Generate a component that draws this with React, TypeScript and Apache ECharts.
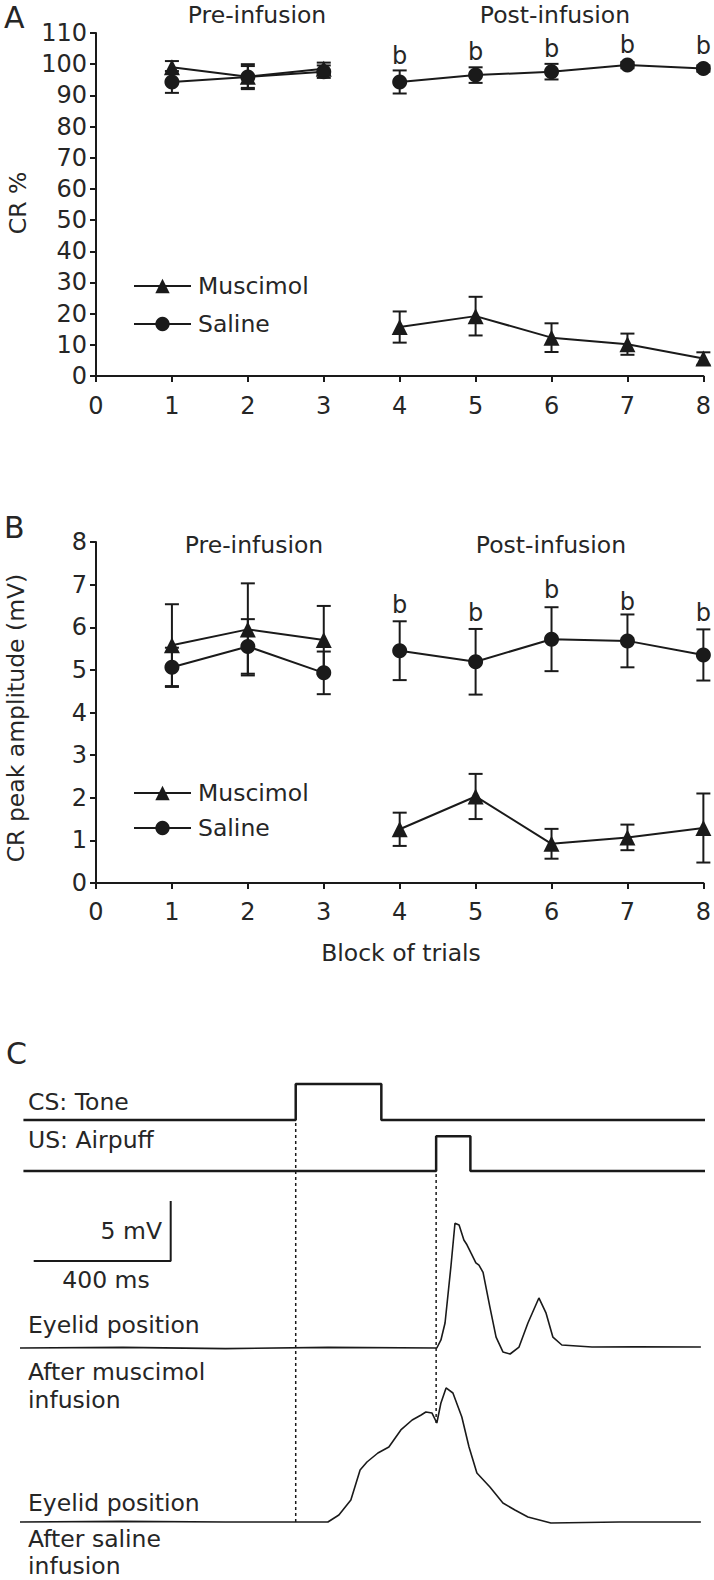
import React, { useEffect, useRef } from 'react';
import * as echarts from 'echarts';

// ---------- Data ----------
const blocks = [1, 2, 3, 4, 5, 6, 7, 8];
const xTicks = [0, 1, 2, 3, 4, 5, 6, 7, 8];

// Panel A: CR %
const muscimolCR = [99, 96, 98.5, 15.7, 19.2, 12.3, 10.2, 5.6];
const muscimolCRErr = [2, 4, 2, 5, 6.2, 4.6, 3.4, 2];
const salineCR = [94.3, 95.9, 97.6, 94.3, 96.5, 97.6, 99.7, 98.6];
const salineCRErr = [3.5, 3.5, 2, 3.7, 2.5, 2.5, 1, 1];
const sigBlocksA = [4, 5, 6, 7, 8];
const sigPosA = [102.5, 104, 105, 106.3, 105.8];

// Panel B: CR peak amplitude (mV)
const muscimolAmp = [5.58, 5.95, 5.7, 1.26, 2.03, 0.92, 1.07, 1.29];
const muscimolAmpErr = [0.96, 1.08, 0.8, 0.39, 0.53, 0.35, 0.3, 0.81];
const salineAmp = [5.06, 5.55, 4.93, 5.45, 5.19, 5.72, 5.68, 5.35];
const salineAmpErr = [0.46, 0.64, 0.5, 0.69, 0.77, 0.75, 0.62, 0.6];
const sigBlocksB = [4, 5, 6, 7, 8];
const sigPosB = [6.52, 6.34, 6.87, 6.6, 6.34];
const sigMark = 'b';

// Panel C: traces (time in ms, amplitude in mV)
const csTrace = [[10, 0], [805, 0], [805, 3], [1055, 3], [1055, 0], [2000, 0]];
const usTrace = [[10, 0], [1215, 0], [1215, 2.9], [1315, 2.9], [1315, 0], [2000, 0]];
const muscimolTrace = [
  [0, 0], [300, 0.05], [600, -0.05], [900, 0.05], [1217, 0], [1229, 0.67], [1241, 2.08],
  [1258, 6.75], [1270, 10.4], [1282, 10.25], [1296, 9.0], [1305, 8.6], [1317, 7.9],
  [1331, 7.1], [1340, 6.9], [1352, 6.3], [1372, 3.4], [1390, 0.9], [1410, -0.33],
  [1431, -0.5], [1457, 0.08], [1483, 2.08], [1515, 4.17], [1536, 2.9], [1556, 0.9],
  [1582, 0.25], [1670, 0.08], [1800, 0.1], [1988, 0.08],
];
const salineTrace = [
  [0, 0], [300, 0.05], [600, 0], [899, 0], [931, 0.58], [966, 1.83], [993, 4.33],
  [1013, 5.0], [1045, 5.75], [1077, 6.25], [1112, 7.67], [1145, 8.5], [1170, 8.9],
  [1185, 9.17], [1203, 9.08], [1217, 8.25], [1229, 9.92], [1244, 11.17], [1264, 10.75],
  [1290, 8.75], [1311, 6.25], [1334, 4.08], [1372, 2.92], [1410, 1.58], [1445, 1.0],
  [1483, 0.42], [1550, -0.08], [1750, 0], [1988, 0],
];
const csOnset = 805;
const usOnset = 1215;
const scaleBarMs = 400;
const scaleBarMv = 5;

// ---------- Layout constants ----------
const FONT = 'DejaVu Sans';
const INK = '#1a1a1a';
const TXT = '#262626';
const BASE_CS = 35;
const BASE_US = 30.75;
const BASE_MUS = 16;
const BASE_SAL = 1.5;
const SCALE_X0 = 40;
const SCALE_Y0 = 23.25;

function axisPair(gridIndex: number, yMax: number, yInterval: number, xMargin: number) {
  const x = {
    type: 'value', gridIndex, min: 0, max: 8, interval: 1,
    axisLine: { show: true, onZero: false, lineStyle: { color: INK, width: 2 } },
    axisTick: { show: true, inside: false, length: 6, lineStyle: { color: INK, width: 2 } },
    axisLabel: { fontSize: 24, fontFamily: FONT, color: TXT, margin: xMargin,
      formatter: (v: number) => (xTicks.includes(v) ? String(v) : '') },
    splitLine: { show: false },
  };
  const y = {
    type: 'value', gridIndex, min: 0, max: yMax, interval: yInterval,
    axisLine: { show: true, lineStyle: { color: INK, width: 2 } },
    axisTick: { show: true, inside: false, length: 6, lineStyle: { color: INK, width: 2 } },
    axisLabel: { fontSize: 24, fontFamily: FONT, color: TXT, margin: 9 },
    splitLine: { show: false },
  };
  return { x, y };
}

function errorSeries(gi: number, vals: number[], errs: number[]) {
  return {
    type: 'custom', xAxisIndex: gi, yAxisIndex: gi, z: 2,
    data: blocks.map((b, i) => [b, vals[i], errs[i]]),
    encode: { x: 0, y: 1 },
    renderItem: (params: any, api: any) => {
      const x = api.value(0), y = api.value(1), e = api.value(2);
      const top = api.coord([x, y + e]);
      const bot = api.coord([x, y - e]);
      const w = 7;
      const style = { stroke: INK, lineWidth: 2 };
      return {
        type: 'group',
        children: [
          { type: 'line', shape: { x1: top[0], y1: top[1], x2: bot[0], y2: bot[1] }, style },
          { type: 'line', shape: { x1: top[0] - w, y1: top[1], x2: top[0] + w, y2: top[1] }, style },
          { type: 'line', shape: { x1: bot[0] - w, y1: bot[1], x2: bot[0] + w, y2: bot[1] }, style },
        ],
      };
    },
  };
}

function lineSeries(gi: number, name: string, vals: number[], symbol: string, size: number, from: number, to: number) {
  return {
    type: 'line', name, xAxisIndex: gi, yAxisIndex: gi, z: 3,
    symbol, symbolSize: size, showSymbol: true,
    lineStyle: { color: INK, width: 2 },
    itemStyle: { color: INK, borderWidth: 0 },
    data: blocks.slice(from, to).map((b, i) => [b, vals[from + i]]),
  };
}

function sigSeries(gi: number, xs: number[], ys: number[]) {
  return {
    type: 'custom', xAxisIndex: gi, yAxisIndex: gi, z: 4,
    data: xs.map((x, i) => [x, ys[i]]),
    encode: { x: 0, y: 1 },
    renderItem: (params: any, api: any) => {
      const p = api.coord([api.value(0), api.value(1)]);
      return {
        type: 'text', x: p[0], y: p[1],
        style: {
          text: sigMark, fontSize: 24, fontFamily: FONT, fill: TXT,
          align: 'center', verticalAlign: 'middle', textAlign: 'center', textVerticalAlign: 'middle',
        },
      };
    },
  };
}

function panelSeries(gi: number, mv: number[], me: number[], sv: number[], se: number[], sx: number[], sy: number[]) {
  return [
    errorSeries(gi, sv, se),
    errorSeries(gi, mv, me),
    lineSeries(gi, 'Saline', sv, 'circle', 15, 0, 3),
    lineSeries(gi, 'Saline', sv, 'circle', 15, 3, 8),
    lineSeries(gi, 'Muscimol', mv, 'triangle', 16, 0, 3),
    lineSeries(gi, 'Muscimol', mv, 'triangle', 16, 3, 8),
    sigSeries(gi, sx, sy),
  ];
}

function traceSeries(data: number[][], base: number, width: number) {
  return {
    type: 'line', xAxisIndex: 2, yAxisIndex: 2, symbol: 'none', z: 3,
    lineStyle: { color: INK, width },
    data: data.map((p) => [p[0], p[1] + base]),
  };
}

function text(x: number, y: number, str: string, opts: any = {}) {
  return {
    type: 'text', x, y, rotation: opts.rotation || 0,
    style: {
      text: str, fontSize: opts.size || 23.5, fontFamily: FONT, fill: TXT,
      align: opts.align || 'left', verticalAlign: 'middle',
      textAlign: opts.align || 'left', textVerticalAlign: 'middle',
    },
  };
}

export default function App() {
  const ref = useRef<HTMLDivElement>(null);
  useEffect(() => {
    if (!ref.current) return;
    const chart = echarts.init(ref.current, undefined, { renderer: 'svg' });
    const a = axisPair(0, 110, 10, 18);
    const b = axisPair(1, 8, 1, 17);
    const legendBase = {
      orient: 'vertical', itemWidth: 57, itemHeight: 18,
      textStyle: { fontSize: 23.5, fontFamily: FONT, color: TXT, padding: [0, 0, 0, 2] },
      data: ['Muscimol', 'Saline'],
    };
    const option: any = {
      animation: false,
      backgroundColor: '#ffffff',
      grid: [
        { left: 96, top: 33, width: 608, height: 343 },
        { left: 96, top: 542, width: 608, height: 341 },
        { left: 20, top: 1060, width: 685, height: 480 },
      ],
      xAxis: [a.x, b.x, { type: 'value', gridIndex: 2, min: 0, max: 2000, show: false }],
      yAxis: [a.y, b.y, { type: 'value', gridIndex: 2, min: 0, max: 40, show: false }],
      legend: [
        { ...legendBase, left: 128, top: 269, itemGap: 14 },
        { ...legendBase, left: 128, top: 776, itemGap: 11 },
      ],
      series: [
        ...panelSeries(0, muscimolCR, muscimolCRErr, salineCR, salineCRErr, sigBlocksA, sigPosA),
        ...panelSeries(1, muscimolAmp, muscimolAmpErr, salineAmp, salineAmpErr, sigBlocksB, sigPosB),
        traceSeries(csTrace, BASE_CS, 2.5),
        traceSeries(usTrace, BASE_US, 2.5),
        traceSeries(muscimolTrace, BASE_MUS, 1.6),
        traceSeries(salineTrace, BASE_SAL, 1.6),
        {
          type: 'line', xAxisIndex: 2, yAxisIndex: 2, symbol: 'none', z: 2,
          lineStyle: { color: INK, width: 1.5, type: [3, 3] },
          data: [[csOnset, BASE_SAL], [csOnset, BASE_CS]],
        },
        {
          type: 'line', xAxisIndex: 2, yAxisIndex: 2, symbol: 'none', z: 2,
          lineStyle: { color: INK, width: 1.5, type: [3, 3] },
          data: [[usOnset, BASE_SAL + 8.25], [usOnset, BASE_US]],
        },
        {
          type: 'line', xAxisIndex: 2, yAxisIndex: 2, symbol: 'none', z: 2,
          lineStyle: { color: INK, width: 2 },
          data: [[SCALE_X0, SCALE_Y0], [SCALE_X0 + scaleBarMs, SCALE_Y0], [SCALE_X0 + scaleBarMs, SCALE_Y0 + scaleBarMv]],
        },
      ],
      graphic: [
        text(4, 17, 'A', { size: 30 }),
        text(257, 15, 'Pre-infusion', { align: 'center' }),
        text(555, 15, 'Post-infusion', { align: 'center' }),
        text(18, 203, 'CR %', { rotation: Math.PI / 2, align: 'center' }),
        text(4, 527, 'B', { size: 30 }),
        text(254, 545, 'Pre-infusion', { align: 'center' }),
        text(551, 545, 'Post-infusion', { align: 'center' }),
        text(16, 718, 'CR peak amplitude (mV)', { rotation: Math.PI / 2, align: 'center' }),
        text(401, 953, 'Block of trials', { align: 'center' }),
        text(6, 1053, 'C', { size: 30 }),
        text(28, 1102, 'CS: Tone'),
        text(28, 1140, 'US: Airpuff'),
        text(162, 1231, '5 mV', { align: 'right' }),
        text(106, 1280, '400 ms', { align: 'center' }),
        text(28, 1325, 'Eyelid position'),
        text(28, 1372, 'After muscimol'),
        text(28, 1400, 'infusion'),
        text(28, 1503, 'Eyelid position'),
        text(28, 1539, 'After saline'),
        text(28, 1566, 'infusion'),
      ],
    };
    chart.setOption(option);
    return () => chart.dispose();
  }, []);
  return <div ref={ref} style={{ position: 'absolute', left: 0, top: 0, width: 714, height: 1580 }} />;
}
